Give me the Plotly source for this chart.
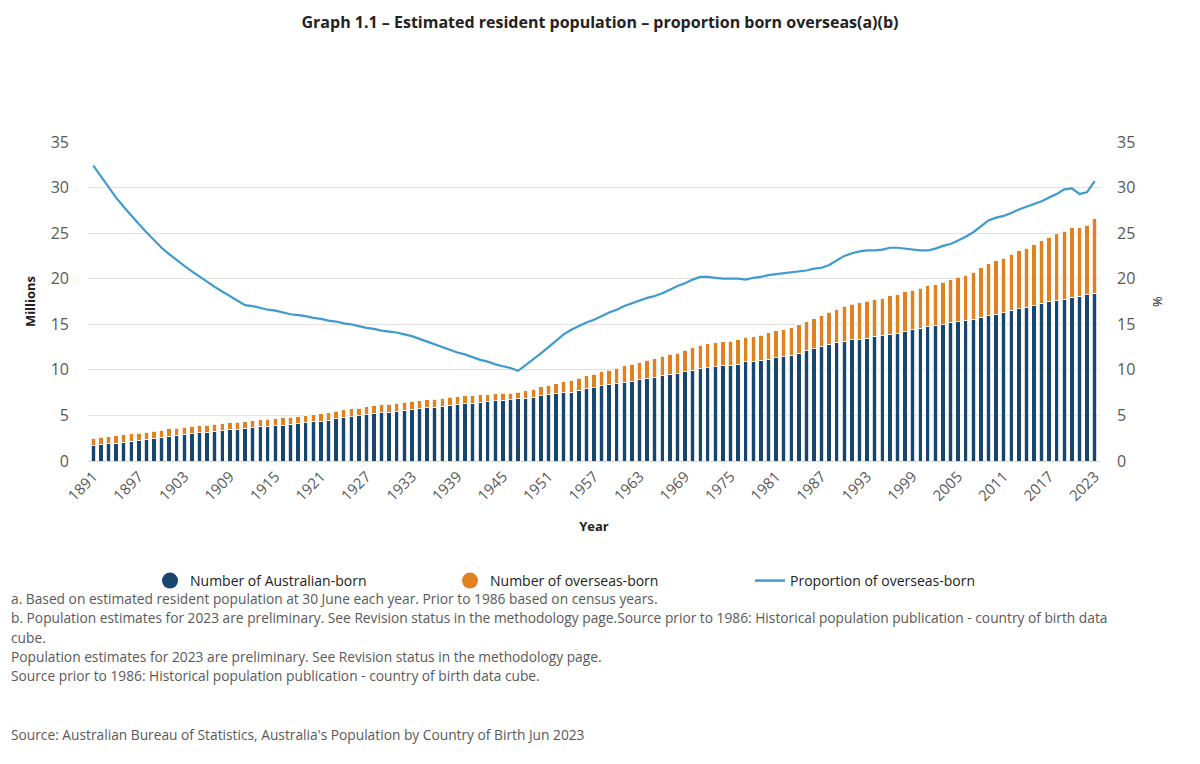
import plotly.graph_objects as go

# data (millions / %)
years = list(range(1891, 2024))

australian_born = [
    1.70, 1.80, 1.88, 1.97, 2.08, 2.18, 2.26, 2.37, 2.49, 2.60,
    2.72, 2.82, 2.91, 3.01, 3.09, 3.16, 3.26, 3.32, 3.42, 3.49,
    3.59, 3.67, 3.74, 3.84, 3.87, 3.95, 4.01, 4.09, 4.18, 4.28,
    4.37, 4.48, 4.61, 4.75, 4.88, 4.94, 5.07, 5.17, 5.27, 5.33,
    5.42, 5.55, 5.65, 5.74, 5.83, 5.92, 6.01, 6.12, 6.21, 6.30,
    6.35, 6.45, 6.49, 6.59, 6.65, 6.70, 6.81, 6.91, 7.02, 7.16,
    7.27, 7.38, 7.47, 7.57, 7.74, 7.94, 8.04, 8.24, 8.34, 8.49,
    8.66, 8.76, 8.93, 9.10, 9.21, 9.36, 9.50, 9.57, 9.77, 9.95,
    10.13, 10.25, 10.36, 10.48, 10.53, 10.64, 10.87, 10.91, 11.03, 11.19,
    11.35, 11.43, 11.61, 11.82, 12.09, 12.31, 12.57, 12.80, 12.99, 13.14,
    13.29, 13.37, 13.47, 13.67, 13.73, 13.89, 14.03, 14.24, 14.38, 14.59,
    14.79, 14.83, 14.97, 15.16, 15.27, 15.38, 15.53, 15.76, 15.93, 16.11,
    16.28, 16.53, 16.71, 16.85, 17.05, 17.29, 17.45, 17.64, 17.69, 17.95,
    18.10, 18.23, 18.41,
]

overseas_born = [
    0.82, 0.82, 0.80, 0.80, 0.80, 0.80, 0.80, 0.79, 0.79, 0.80,
    0.80, 0.80, 0.79, 0.79, 0.78, 0.77, 0.77, 0.76, 0.75, 0.75,
    0.74, 0.75, 0.76, 0.76, 0.77, 0.77, 0.77, 0.78, 0.79, 0.80,
    0.81, 0.81, 0.83, 0.85, 0.86, 0.86, 0.87, 0.88, 0.88, 0.88,
    0.89, 0.90, 0.90, 0.89, 0.88, 0.87, 0.86, 0.85, 0.84, 0.84,
    0.82, 0.80, 0.79, 0.78, 0.77, 0.76, 0.75, 0.81, 0.88, 0.96,
    1.04, 1.12, 1.21, 1.27, 1.34, 1.42, 1.48, 1.56, 1.62, 1.69,
    1.77, 1.83, 1.91, 1.98, 2.04, 2.11, 2.20, 2.27, 2.37, 2.47,
    2.57, 2.60, 2.61, 2.62, 2.63, 2.66, 2.70, 2.75, 2.79, 2.87,
    2.93, 2.97, 3.03, 3.11, 3.19, 3.29, 3.38, 3.50, 3.66, 3.82,
    3.93, 3.99, 4.04, 4.10, 4.15, 4.24, 4.29, 4.33, 4.34, 4.38,
    4.44, 4.51, 4.63, 4.73, 4.88, 5.02, 5.20, 5.45, 5.72, 5.87,
    5.99, 6.18, 6.37, 6.52, 6.69, 6.89, 7.09, 7.31, 7.51, 7.65,
    7.50, 7.63, 8.15,
]

proportion_overseas = [
    32.4, 31.2, 30.0, 28.9, 27.9, 26.9, 26.0, 25.1, 24.2, 23.4,
    22.7, 22.0, 21.4, 20.8, 20.2, 19.6, 19.1, 18.6, 18.1, 17.6,
    17.1, 17.0, 16.8, 16.6, 16.5, 16.3, 16.1, 16.0, 15.9, 15.7,
    15.6, 15.4, 15.3, 15.1, 15.0, 14.8, 14.6, 14.5, 14.3, 14.2,
    14.1, 13.9, 13.7, 13.4, 13.1, 12.8, 12.5, 12.2, 11.9, 11.7,
    11.4, 11.1, 10.9, 10.6, 10.4, 10.2, 9.9, 10.5, 11.1, 11.8,
    12.5, 13.2, 13.9, 14.4, 14.8, 15.2, 15.5, 15.9, 16.3, 16.6,
    17.0, 17.3, 17.6, 17.9, 18.1, 18.4, 18.8, 19.2, 19.5, 19.9,
    20.2, 20.2, 20.1, 20.0, 20.0, 20.0, 19.9, 20.1, 20.2, 20.4,
    20.5, 20.6, 20.7, 20.8, 20.9, 21.1, 21.2, 21.5, 22.0, 22.5,
    22.8, 23.0, 23.1, 23.1, 23.2, 23.4, 23.4, 23.3, 23.2, 23.1,
    23.1, 23.3, 23.6, 23.8, 24.2, 24.6, 25.1, 25.7, 26.4, 26.7,
    26.9, 27.2, 27.6, 27.9, 28.2, 28.5, 28.9, 29.3, 29.8, 29.9,
    29.3, 29.5, 30.7,
]

tick_years = list(range(1891, 2018, 6)) + [2023]

footnotes = [
    "a. Based on estimated resident population at 30 June each year. Prior to 1986 based on census years.",
    "b. Population estimates for 2023 are preliminary. See Revision status in the methodology page.Source prior to 1986: Historical population publication - country of birth data",
    "cube.",
    "Population estimates for 2023 are preliminary. See Revision status in the methodology page.",
    "Source prior to 1986: Historical population publication - country of birth data cube.",
    "",
    "Source: Australian Bureau of Statistics, Australia's Population by Country of Birth Jun 2023",
]

BLUE = "#17466f"
ORANGE = "#df821f"
LINE = "#3f9bcf"
GREY = "#595959"

# the page body adds 8px of margin, so the figure is drawn 8px smaller
W, H = 1184, 748
PL, PT, PR, PB = 80, 134, 1092, 453   # plot area edges in figure pixels

fig = go.Figure()

fig.add_trace(go.Bar(
    x=years, y=australian_born, name="Number of Australian-born",
    marker=dict(color=BLUE, line=dict(color="white", width=0.8)),
    showlegend=False,
))
fig.add_trace(go.Bar(
    x=years, y=overseas_born, name="Number of overseas-born",
    marker=dict(color=ORANGE, line=dict(color="white", width=0.8)),
    showlegend=False,
))
fig.add_trace(go.Scatter(
    x=years, y=proportion_overseas, name="Proportion of overseas-born",
    mode="lines", line=dict(color=LINE, width=2.2), yaxis="y2",
    showlegend=False,
))

# legend entries (circle markers like the original)
fig.add_trace(go.Scatter(x=[None], y=[None], mode="markers", name="Number of Australian-born",
                         marker=dict(color=BLUE, size=16, symbol="circle")))
fig.add_trace(go.Scatter(x=[None], y=[None], mode="markers", name="Number of overseas-born",
                         marker=dict(color=ORANGE, size=16, symbol="circle")))
fig.add_trace(go.Scatter(x=[None], y=[None], mode="lines", name="Proportion of overseas-born",
                         line=dict(color=LINE, width=2.5)))

fig.update_layout(
    width=W, height=H,
    barmode="stack", bargap=0.42,
    paper_bgcolor="white", plot_bgcolor="white",
    font=dict(family="Open Sans, Noto Sans, sans-serif", color=GREY),
    margin=dict(l=PL, r=W - PR, t=PT, b=H - PB, autoexpand=False),
    title=dict(
        text="<b>Graph 1.1 – Estimated resident population – proportion born overseas(a)(b)</b>",
        x=0.5, xanchor="center", y=1 - 14 / H, yanchor="middle",
        font=dict(size=16, color="#222222"),
    ),
    xaxis=dict(
        range=[1890.3, 2023.7], tickvals=tick_years, tickangle=-45,
        tickfont=dict(size=15, color=GREY), showgrid=False,
        showline=True, linecolor="#d9d9d9", ticks="",
        title=dict(text="<b>Year</b>", font=dict(size=13, color="#222222"), standoff=18),
    ),
    yaxis=dict(
        range=[0, 35], dtick=5, tickfont=dict(size=16, color=GREY),
        gridcolor="#e3e3e3", zeroline=False, ticks="", ticklabelstandoff=18,
        title=dict(text="<b>Millions</b>", font=dict(size=13, color="#222222"), standoff=12),
    ),
    yaxis2=dict(
        range=[0, 35], dtick=5, overlaying="y", side="right",
        tickfont=dict(size=16, color=GREY), showgrid=False, zeroline=False, ticks="",
        ticklabelstandoff=16,
        title=dict(text="%", font=dict(size=13, color="#222222"), standoff=18),
    ),
    legend=dict(
        orientation="h", xref="container", yref="container", traceorder="normal",
        x=0.5, xanchor="center", y=1 - 573 / H, yanchor="middle",
        entrywidth=255, font=dict(size=14, color="#222222"),
    ),
)

plot_h = PB - PT
y_px = [590, 609, 629, 648, 667, 686, 726]
for text, yp in zip(footnotes, y_px):
    if not text:
        continue
    fig.add_annotation(
        text=text, xref="paper", yref="paper",
        x=(1 - PL) / (PR - PL), y=(PB - yp) / plot_h,
        xanchor="left", yanchor="middle", showarrow=False,
        font=dict(size=13.75, color=GREY), align="left",
    )

fig.write_html("out.html")
